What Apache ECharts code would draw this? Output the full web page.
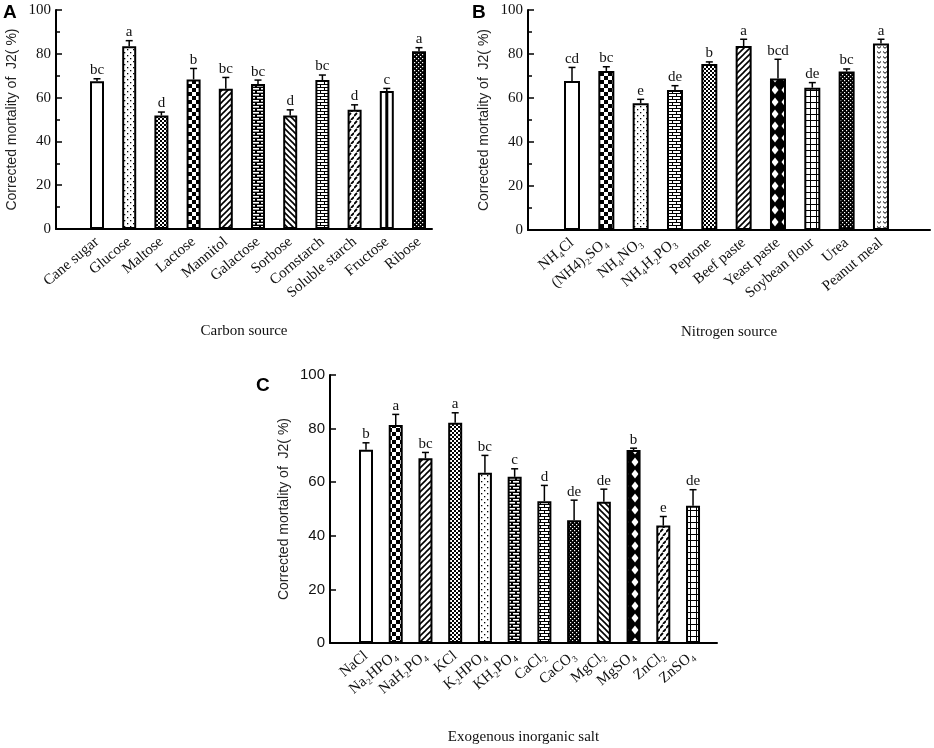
<!DOCTYPE html>
<html>
<head>
<meta charset="utf-8">
<script src="https://cdn.jsdelivr.net/npm/echarts@6/dist/echarts.min.js"></script>
<style>
html,body{margin:0;padding:0;background:#fff;}
#chart{width:934px;height:748px;}
</style>
</head>
<body>
<div id="chart"></div>
<script>
// ---------- DATA ----------
const carbonCategories = ['Cane sugar','Glucose','Maltose','Lactose','Mannitol','Galactose','Sorbose','Cornstarch','Soluble starch','Fructose','Ribose'];
const carbonValues = [67.5, 83.5, 51.8, 68.3, 64.0, 66.2, 51.8, 68.0, 54.4, 63.0, 81.2];
const carbonErrTop = [68.6, 86.0, 53.4, 73.3, 69.2, 68.0, 54.4, 70.3, 56.7, 64.2, 82.8];
const carbonLetters = ['bc','a','d','b','bc','bc','d','bc','d','c','a'];
const carbonPatterns = ['none','dots','finecheck','checker','diag','brickBold','back','brick','diagDash','vline','denseDark'];

const nitrogenCategories = ['NH₄Cl','(NH4)₂SO₄','NH₄NO₃','NH₄H₂PO₃','Peptone','Beef paste','Yeast paste','Soybean flour','Urea','Peanut meal'];
const nitrogenValues = [67.7, 72.3, 57.6, 63.6, 75.5, 83.6, 68.9, 64.7, 72.0, 84.8];
const nitrogenErrTop = [73.9, 74.2, 59.4, 65.6, 76.4, 86.7, 77.6, 67.0, 73.2, 86.7];
const nitrogenLetters = ['cd','bc','e','de','b','a','bcd','de','bc','a'];
const nitrogenPatterns = ['none','checker','dots','brick','finecheck','diag','diamond','grid','denseDark','wave'];

const saltCategories = ['NaCl','Na₂HPO₄','NaH₂PO₄','KCl','K₂HPO₄','KH₂PO₄','CaCl₂','CaCO₃','MgCl₂','MgSO₄','ZnCl₂','ZnSO₄'];
const saltValues = [72.1, 81.3, 68.9, 82.2, 63.5, 62.0, 52.9, 45.8, 52.7, 72.0, 43.8, 51.2];
const saltErrTop = [74.7, 85.3, 71.1, 85.9, 70.0, 65.0, 58.8, 53.3, 57.4, 72.7, 47.2, 57.2];
const saltLetters = ['b','a','bc','a','bc','c','d','de','de','b','e','de'];
const saltPatterns = ['none','checker','diag','finecheck','dots','brickBold','brick','denseDark','back','diamond','diagDash','grid'];

const yTicks = [0, 20, 40, 60, 80, 100];

// ---------- PATTERNS ----------
function makePattern(type) {
  if (type === 'none' || type === 'vline') return '#ffffff';
  const c = document.createElement('canvas');
  let w = 6, h = 6;
  const sizes = {dots:[6,6], finecheck:[4,4], checker:[8,8], diag:[6,6], back:[6,6], brick:[8,6], brickBold:[8,6], diagDash:[6,8], denseDark:[4,4], diamond:[10,12], grid:[6,6], wave:[6,5]};
  if (sizes[type]) { w = sizes[type][0]; h = sizes[type][1]; }
  c.width = w; c.height = h;
  const x = c.getContext('2d');
  x.fillStyle = '#fff'; x.fillRect(0,0,w,h);
  x.fillStyle = '#000'; x.strokeStyle = '#000';
  switch (type) {
    case 'dots':
      x.fillRect(1,1,1.3,1.3); x.fillRect(4,4,1.3,1.3); break;
    case 'finecheck':
      x.fillRect(0,0,2,2); x.fillRect(2,2,2,2); break;
    case 'checker':
      x.fillRect(0,0,4,4); x.fillRect(4,4,4,4); break;
    case 'diag':
      x.lineWidth = 1.6;
      x.beginPath(); x.moveTo(-1,7); x.lineTo(7,-1); x.stroke();
      x.beginPath(); x.moveTo(-1,1); x.lineTo(1,-1); x.stroke();
      x.beginPath(); x.moveTo(5,7); x.lineTo(7,5); x.stroke();
      break;
    case 'back':
      x.lineWidth = 1.6;
      x.beginPath(); x.moveTo(-1,-1); x.lineTo(7,7); x.stroke();
      x.beginPath(); x.moveTo(5,-1); x.lineTo(7,1); x.stroke();
      x.beginPath(); x.moveTo(-1,5); x.lineTo(1,7); x.stroke();
      break;
    case 'brick':
      x.fillRect(0,0,8,1); x.fillRect(0,3,8,1);
      x.fillRect(0,0,1,3); x.fillRect(4,3,1,3); break;
    case 'brickBold':
      x.fillRect(0,0,8,6);
      x.fillStyle = '#fff';
      x.fillRect(1,1,6,1.6); x.fillRect(5,4,6,1.6); x.fillRect(-3,4,6,1.6); break;
    case 'diagDash':
      x.lineWidth = 1.8;
      x.beginPath(); x.moveTo(0,4); x.lineTo(3,1); x.stroke();
      x.beginPath(); x.moveTo(3,8); x.lineTo(6,5); x.stroke();
      break;
    case 'denseDark':
      x.fillRect(0,0,4,4);
      x.fillStyle = '#fff';
      x.fillRect(0,0,1.2,1.2); x.fillRect(2,2,1.2,1.2); break;
    case 'diamond':
      x.fillRect(0,0,w,h);
      x.fillStyle = '#fff';
      x.beginPath(); x.moveTo(5,1.5); x.lineTo(8.5,6); x.lineTo(5,10.5); x.lineTo(1.5,6); x.closePath(); x.fill();
      break;
    case 'grid':
      x.fillRect(0,0,6,1); x.fillRect(0,0,1,6); break;
    case 'wave':
      x.lineWidth = 1;
      x.beginPath(); x.moveTo(1,1.5); x.lineTo(3,3.3); x.lineTo(5,1.5); x.stroke();
      break;
  }
  return {image: c, repeat: 'repeat'};
}

// ---------- BUILD ----------
const grids = [], xAxes = [], yAxes = [], series = [];
const serif = 'Liberation Serif', sans = 'Liberation Sans';

function panel(cfg) {
  const gi = grids.length;
  grids.push({left: cfg.frame[0], top: cfg.frame[1], width: cfg.frame[2], height: cfg.frame[3], containLabel: false, outerBoundsMode: 'none'});
  const n = cfg.categories.length;
  const barsLeft = cfg.firstCenter - cfg.spacing / 2;
  grids.push({left: barsLeft, top: cfg.frame[1], width: cfg.spacing * n, height: cfg.frame[3], containLabel: false, outerBoundsMode: 'none'});
  // frame axes
  xAxes.push({gridIndex: gi, type: 'value', min: 0, max: 1, axisLine: {show: true, lineStyle: {color: '#000', width: 2}},
    axisTick: {show: false}, axisLabel: {show: false}, splitLine: {show: false},
    name: cfg.xName, nameLocation: 'middle', nameGap: cfg.xNameGap,
    nameTextStyle: {fontFamily: serif, fontSize: 15, color: '#111'}});
  yAxes.push({gridIndex: gi, type: 'value', min: yTicks[0], max: yTicks[yTicks.length-1], interval: 20,
    axisLine: {show: true, lineStyle: {color: '#000', width: 2}},
    axisTick: {show: true, inside: true, length: 6, lineStyle: {color: '#000', width: 1.5}},
    minorTick: {show: cfg.minor, splitNumber: 2, length: 4, lineStyle: {color: '#000', width: 1.5}},
    minorSplitLine: {show: false},
    axisLabel: {fontFamily: cfg.yFont, fontSize: cfg.yFontSize, color: '#111', margin: 5},
    splitLine: {show: false},
    name: 'Corrected mortality of  J2( %)', nameLocation: 'middle', nameGap: cfg.yNameGap,
    nameTextStyle: {fontFamily: sans, fontSize: 14, color: '#222'}});
  // bar axes
  xAxes.push({gridIndex: gi + 1, type: 'category', data: cfg.categories,
    axisLine: {show: false}, axisTick: {show: false},
    axisLabel: {interval: 0, rotate: 40, fontFamily: serif, fontSize: 15, color: '#111', margin: 11}});
  yAxes.push({gridIndex: gi + 1, type: 'value', min: 0, max: 100, show: false});
  const xi = xAxes.length - 1, yi = yAxes.length - 1;
  series.push({type: 'bar', xAxisIndex: xi, yAxisIndex: yi, barWidth: cfg.barWidth, silent: true,
    data: cfg.values.map((v, i) => ({value: v, itemStyle: {color: makePattern(cfg.patterns[i])}})),
    itemStyle: {borderColor: '#000', borderWidth: 2}});
  series.push({type: 'custom', xAxisIndex: xi, yAxisIndex: yi, silent: true, z: 5,
    data: cfg.values.map((v, i) => [i, v, cfg.errTop[i]]),
    renderItem: function (params, api) {
      const i = api.value(0), v = api.value(1), e = api.value(2);
      const p0 = api.coord([i, v]), p1 = api.coord([i, e]), pz = api.coord([i, 0]);
      const ch = [
        {type: 'line', shape: {x1: p0[0], y1: p0[1], x2: p1[0], y2: p1[1]}, style: {stroke: '#000', lineWidth: 1.5}},
        {type: 'line', shape: {x1: p1[0] - 3.5, y1: p1[1], x2: p1[0] + 3.5, y2: p1[1]}, style: {stroke: '#000', lineWidth: 1.5}},
        {type: 'text', x: p1[0], y: p1[1] - 1, style: {text: cfg.letters[params.dataIndex], fontFamily: serif, fontSize: 15, fill: '#111', align: 'center', verticalAlign: 'bottom'}}
      ];
      if (cfg.patterns[params.dataIndex] === 'vline') {
        ch.push({type: 'line', shape: {x1: pz[0], y1: pz[1], x2: p0[0], y2: p0[1]}, style: {stroke: '#000', lineWidth: 3}});
      }
      return {type: 'group', children: ch};
    }});
}

panel({categories: carbonCategories, values: carbonValues, errTop: carbonErrTop, letters: carbonLetters, patterns: carbonPatterns,
  frame: [56, 10, 376, 219], firstCenter: 97, spacing: 32.2, barWidth: 14, minor: true,
  yFont: serif, yFontSize: 15, yNameGap: 37, xName: 'Carbon source', xNameGap: 95});
panel({categories: nitrogenCategories, values: nitrogenValues, errTop: nitrogenErrTop, letters: nitrogenLetters, patterns: nitrogenPatterns,
  frame: [528, 10, 402, 220], firstCenter: 572, spacing: 34.33, barWidth: 16, minor: true,
  yFont: serif, yFontSize: 15, yNameGap: 37, xName: 'Nitrogen source', xNameGap: 95});
panel({categories: saltCategories, values: saltValues, errTop: saltErrTop, letters: saltLetters, patterns: saltPatterns,
  frame: [330, 375, 387, 268], firstCenter: 366, spacing: 29.73, barWidth: 14, minor: false,
  yFont: sans, yFontSize: 15, yNameGap: 39, xName: 'Exogenous inorganic salt', xNameGap: 87});

const chart = echarts.init(document.getElementById('chart'), null, {renderer: 'canvas'});
chart.setOption({
  animation: false,
  backgroundColor: '#fff',
  grid: grids, xAxis: xAxes, yAxis: yAxes, series: series,
  graphic: [
    {type: 'text', left: 3, top: 3, style: {text: 'A', fontFamily: sans, fontWeight: 'bold', fontSize: 19, fill: '#000'}},
    {type: 'text', left: 472, top: 3, style: {text: 'B', fontFamily: sans, fontWeight: 'bold', fontSize: 19, fill: '#000'}},
    {type: 'text', left: 256, top: 376, style: {text: 'C', fontFamily: sans, fontWeight: 'bold', fontSize: 19, fill: '#000'}}
  ]
});
</script>
</body>
</html>
